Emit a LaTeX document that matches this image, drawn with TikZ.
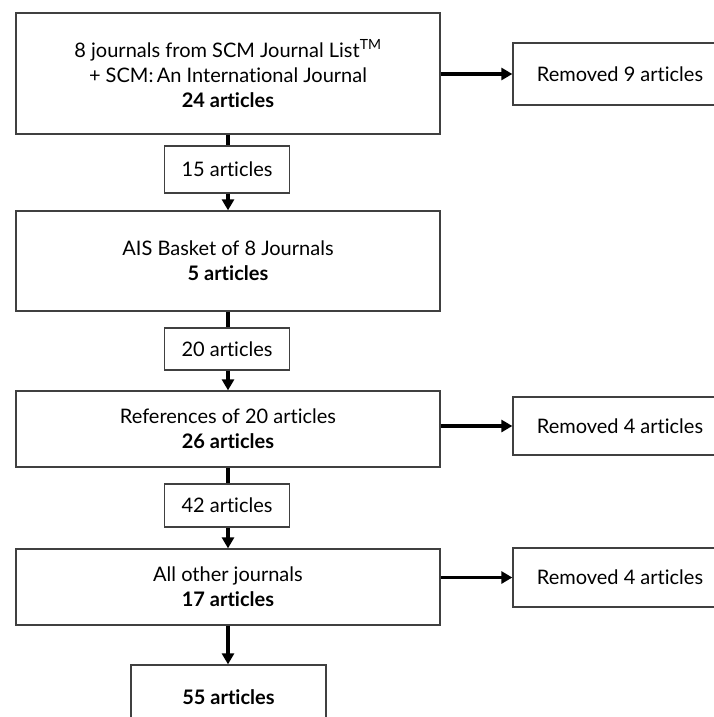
\documentclass[tikz,border=0pt]{standalone}
\usepackage{fontspec}
\setmainfont{Lato}[Ligatures={NoCommon,NoRare}]
\usetikzlibrary{arrows.meta}
\begin{document}
\begin{tikzpicture}[x=1pt,y=-1pt,
  box/.style={draw=black!75,line width=1.3pt,fill=white,inner sep=0pt,align=center,
    font=\fontsize{20}{25}\selectfont},
  stem/.style={line width=3.2pt,black},
  arr/.style={stem,-{Triangle[length=11pt,width=12pt]}}]
\useasboundingbox (0,0) rectangle (713,717);
\node[box,minimum width=424pt,minimum height=121pt] (top) at (228,73.5)
  {8 journals from SCM Journal List\textsuperscript{TM}\\+ SCM:\,An International Journal\\\textbf{24 articles}};
\node[box,minimum width=214pt,minimum height=62pt] (rem9) at (620,74) {Removed 9 articles};
\node[box,minimum width=125pt,minimum height=47pt] (n15) at (227,169.5) {15 articles};
\node[box,minimum width=424pt,minimum height=100pt] (ais) at (228,261) {AIS Basket of 8 Journals\\\textbf{5 articles}};
\node[box,minimum width=125pt,minimum height=42pt] (n20) at (227,349) {20 articles};
\node[box,minimum width=424pt,minimum height=76pt] (ref) at (228,429) {References of 20 articles\\\textbf{26 articles}};
\node[box,minimum width=214pt,minimum height=58pt] (rem4a) at (620,426) {Removed 4 articles};
\node[box,minimum width=125pt,minimum height=43pt] (n42) at (227,505.5) {42 articles};
\node[box,minimum width=424pt,minimum height=76pt] (all) at (228,587) {All other journals\\\textbf{17 articles}};
\node[box,minimum width=214pt,minimum height=59pt] (rem4b) at (620,577.5) {Removed 4 articles};
\node[box,minimum width=195pt,minimum height=64pt] (n55) at (228.5,697) {\textbf{55 articles}};
\draw[stem] (top.south) -- (n15.north -| top.south);
\draw[arr] (n15.south -| ais.north) -- (ais.north);
\draw[stem] (ais.south) -- (n20.north -| ais.south);
\draw[arr] (n20.south -| ref.north) -- (ref.north);
\draw[stem] (ref.south) -- (n42.north -| ref.south);
\draw[arr] (n42.south -| all.north) -- (all.north);
\draw[arr] (all.south) -- (all.south |- n55.north);
\draw[arr] (top.east |- rem9.west) -- (rem9.west);
\draw[arr] (ref.east |- rem4a.west) -- (rem4a.west);
\draw[arr] (all.east |- rem4b.west) -- (rem4b.west);
\end{tikzpicture}
\end{document}
